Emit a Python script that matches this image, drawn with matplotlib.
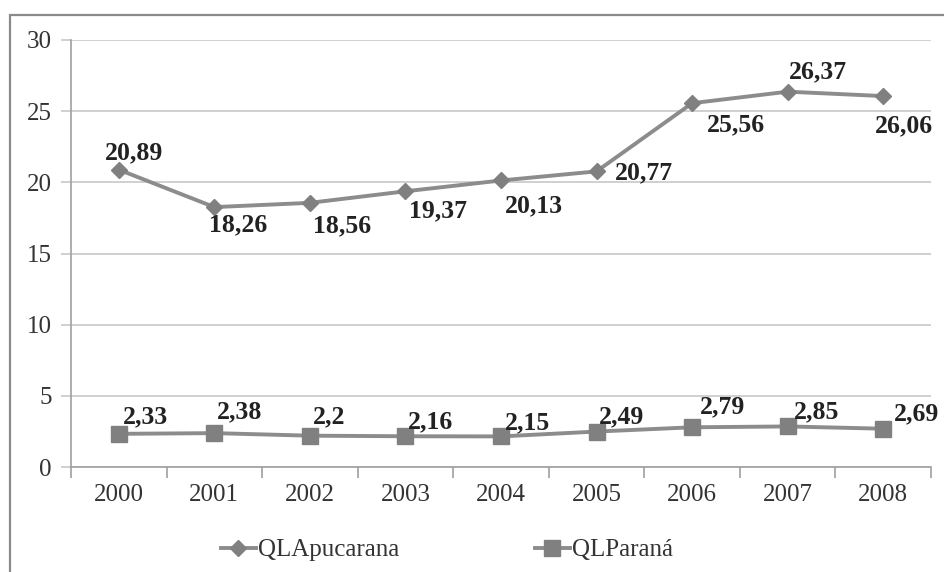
import numpy as np
import matplotlib.pyplot as plt
from matplotlib.patches import Rectangle

years = ['2000', '2001', '2002', '2003', '2004', '2005', '2006', '2007', '2008']
apucarana = [20.89, 18.26, 18.56, 19.37, 20.13, 20.77, 25.56, 26.37, 26.06]
parana = [2.33, 2.38, 2.2, 2.16, 2.15, 2.49, 2.79, 2.85, 2.69]
apu_labels = ['20,89', '18,26', '18,56', '19,37', '20,13', '20,77', '25,56', '26,37', '26,06']
par_labels = ['2,33', '2,38', '2,2', '2,16', '2,15', '2,49', '2,79', '2,85', '2,69']

# label offsets in pixels (dx, dy)
apu_off = [(15, 17), (24, -18), (32, -23), (33, -20), (33, -25), (47, -1), (44, -22), (30, 20), (21, -30)]
par_off = [(27, 17), (25, 21), (19, 19), (25, 14), (27, 14), (25, 15), (30, 20), (29, 15), (33, 15)]

plt.rcParams['font.family'] = ['Liberation Serif', 'DejaVu Serif']

fig = plt.figure(figsize=(9.44, 5.72), dpi=100)
ax = fig.add_axes([71/944, 1 - 467/572, (931 - 71)/944, (467 - 40)/572])

x = np.arange(len(years))
line_c = '#8c8c8c'
mark_c = '#808080'
ax.plot(x, apucarana, color=line_c, lw=2.8, marker='D', ms=8.5,
        mfc=mark_c, mec=mark_c, label='QLApucarana', zorder=3)
ax.plot(x, parana, color=line_c, lw=2.8, marker='s', ms=12,
        mfc=mark_c, mec=mark_c, label='QLParaná', zorder=3)

for i in range(len(years)):
    ax.annotate(apu_labels[i], (x[i], apucarana[i]), xytext=apu_off[i],
                textcoords='offset pixels', ha='center', va='center',
                fontsize=18.5, fontweight='bold', color='#222222')
    ax.annotate(par_labels[i], (x[i], parana[i]), xytext=par_off[i],
                textcoords='offset pixels', ha='center', va='center',
                fontsize=18.5, fontweight='bold', color='#222222')

ax.set_xlim(-0.5, len(years) - 0.5)
ax.set_ylim(0, 30)
ax.set_yticks(np.arange(0, 31, 5))
ax.yaxis.grid(True, color='#c8c8c8', lw=1.2)
ax.set_axisbelow(True)

ax.set_xticks(np.arange(-0.5, len(years), 1))
ax.set_xticklabels([])
ax.set_xticks(x, minor=True)
ax.set_xticklabels(years, minor=True)
ax.tick_params(axis='x', which='major', length=8, width=1.2, color='#a0a0a0', direction='out')
ax.tick_params(axis='x', which='minor', length=0, pad=12, labelsize=18, labelcolor='#333333')
ax.tick_params(axis='y', length=7, width=1.2, color='#c8c8c8', pad=7, labelsize=18, labelcolor='#333333')

for s in ['top', 'right']:
    ax.spines[s].set_visible(False)
for s in ['left', 'bottom']:
    ax.spines[s].set_color('#a0a0a0')
    ax.spines[s].set_linewidth(1.2)

fig.legend(loc='center', bbox_to_anchor=(447/944, 1 - 550/572), ncol=2, frameon=False,
           fontsize=18, handlelength=1.4, handletextpad=0.1, columnspacing=5.4,
           labelcolor='#333333')

fig.patches.append(Rectangle((10/944, -0.1), 2, 1 - 15/572 + 0.1, transform=fig.transFigure,
                             fill=False, edgecolor='#8a8a8a', lw=1.6))

fig.savefig('out.png', dpi=100)
